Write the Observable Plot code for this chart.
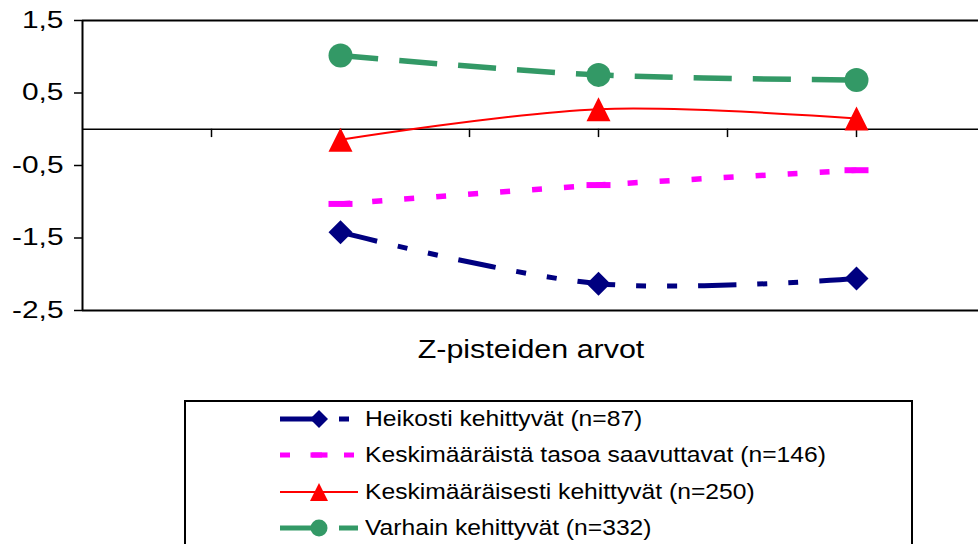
<!DOCTYPE html>
<html><head><meta charset="utf-8">
<script src="https://cdn.jsdelivr.net/npm/d3@7"></script>
<script src="https://cdn.jsdelivr.net/npm/@observablehq/plot@0.6"></script>
<style>
html,body{margin:0;padding:0;background:#fff;}
#wrap{position:relative;width:978px;height:544px;overflow:hidden;font-family:Arial,"Liberation Sans",sans-serif;color:#000;}
#chart{position:absolute;left:0;top:0;}
#xtitle{position:absolute;left:281px;width:500px;top:334px;text-align:center;font-size:26px;line-height:30px;transform:scaleX(1.17);transform-origin:50% 50%;white-space:nowrap;}
#legend{position:absolute;left:184px;top:400px;width:729px;height:170px;border:2px solid #000;box-sizing:border-box;}
.lrow{position:absolute;height:30px;line-height:30px;white-space:nowrap;}
.ltext{position:absolute;left:365px;font-size:22px;transform:scaleX(1.12);transform-origin:0 50%;}
.lsym{position:absolute;left:278px;}
</style>
</head><body>
<div id="wrap">
  <div id="chart"></div>
  <div id="xtitle"></div>
  <div id="legend"></div>
</div>
<script>
// ---- data ----
const xPositions = [2, 4, 6];               // measurement points on the category axis
const xTickPositions = [1, 2, 3, 4, 5, 6];  // category tick marks on the zero line
const seriesNames = [
  "Heikosti kehittyvät (n=87)",
  "Keskimääräistä tasoa saavuttavat (n=146)",
  "Keskimääräisesti kehittyvät (n=250)",
  "Varhain kehittyvät (n=332)"
];
const heikosti   = [-1.42, -2.13, -2.06];
const keskitaso  = [-1.03, -0.77, -0.565];
const keskimaar  = [-0.146, 0.277, 0.148];
const varhain    = [1.017, 0.75, 0.68];
const yTicks = [1.5, 0.5, -0.5, -1.5, -2.5];
const yTickLabels = ["1,5", "0,5", "-0,5", "-1,5", "-2,5"];
const axisTitle = "Z-pisteiden arvot";

const seriesValues = [heikosti, keskitaso, keskimaar, varhain];

// ---- styles ----
function diamond(h){return {draw(c){c.moveTo(0,-h);c.lineTo(h,0);c.lineTo(0,h);c.lineTo(-h,0);c.closePath();}};}
function triangle(h){return {draw(c){c.moveTo(0,-h);c.lineTo(h,h);c.lineTo(-h,h);c.closePath();}};}
function circle(h){return {draw(c){c.moveTo(h,0);c.arc(0,0,h,0,2*Math.PI);c.closePath();}};}
function bar(w,t){return {draw(c){c.moveTo(-w,-t);c.lineTo(w,-t);c.lineTo(w,t);c.lineTo(-w,t);c.closePath();}};}

const styles = [
  {color:"#000080", width:5,   dash:"38,21,10,21,10,21", sym:diamond(12),  lsym:diamond(9)},
  {color:"#FF00FF", width:5.5, dash:"10,22",             sym:bar(12,3),    lsym:bar(8.5,2.6)},
  {color:"#FF0000", width:2,   dash:null,                sym:triangle(12), lsym:triangle(9)},
  {color:"#339966", width:5.5, dash:"38,21",             sym:circle(12),   lsym:circle(8.5)}
];

const rows = [];
seriesNames.forEach((s, i) => seriesValues[i].forEach((v, j) => rows.push({series: s, x: xPositions[j], y: v})));

const marks = [
  Plot.ruleY([yTicks[0], yTicks[yTicks.length-1]], {stroke:"#000", strokeWidth:2}),
  Plot.ruleX([0], {stroke:"#000", strokeWidth:2}),
  Plot.ruleY([0], {stroke:"#000", strokeWidth:1.5}),
  Plot.ruleX(xTickPositions, {y1: 0, y2: -0.115, stroke:"#000", strokeWidth:1.5}),
  Plot.axisY(yTicks, {tickSize:8, tickPadding:11, fontSize:23, stroke:"#000", strokeWidth:1.5,
    tickFormat: d => yTickLabels[yTicks.indexOf(d)], label:null})
];
seriesNames.forEach((s, i) => {
  const st = styles[i];
  const data = rows.filter(d => d.series === s);
  marks.push(Plot.line(data, {x:"x", y:"y", stroke:st.color, strokeWidth:st.width,
    strokeDasharray: st.dash ?? undefined, curve:"catmull-rom", strokeLinecap:"butt", strokeLinejoin:"round"}));
  marks.push(Plot.dot(data, {x:"x", y:"y", symbol:st.sym, r:12, fill:st.color, stroke:"none"}));
});

const chart = Plot.plot({
  width: 978, height: 332,
  marginTop: 20, marginBottom: 22, marginLeft: 82, marginRight: 0,
  style: {fontFamily: 'Arial, "Liberation Sans", sans-serif', fontSize: "23px", color:"#000", background:"transparent", overflow:"visible"},
  x: {domain: [0, 896/129], axis: null},
  y: {domain: [yTicks[yTicks.length-1], yTicks[0]]},
  marks
});
// horizontal stretch of tick labels as in the source
chart.querySelectorAll('g[aria-label="y-axis tick label"] text').forEach(t => {
  const tr = t.getAttribute("transform") || "";
  t.setAttribute("transform", tr + " scale(1.3,1)");
  t.setAttribute("fill", "#000");
});
document.getElementById("chart").appendChild(chart);
document.getElementById("xtitle").textContent = axisTitle;

// ---- legend ----
const legend = d3.select("#wrap");
seriesNames.forEach((s, i) => {
  const st = styles[i];
  const cy = 419 + i * 36.3;
  const row = legend.append("div").attr("class","lrow").style("top", (cy - 15) + "px").style("left","0px").style("width","978px");
  const svg = row.append("svg").attr("class","lsym").attr("width", 84).attr("height", 30);
  svg.append("line").attr("x1", 2).attr("x2", 80).attr("y1", 15).attr("y2", 15)
    .attr("stroke", st.color).attr("stroke-width", st.width === 2 ? 2 : 5)
    .attr("stroke-dasharray", st.dash).attr("stroke-linecap","butt");
  svg.append("path").attr("transform","translate(41,15)").attr("d", d3.symbol(st.lsym)()).attr("fill", st.color);
  row.append("span").attr("class","ltext").text(s);
});
</script>
</body></html>
